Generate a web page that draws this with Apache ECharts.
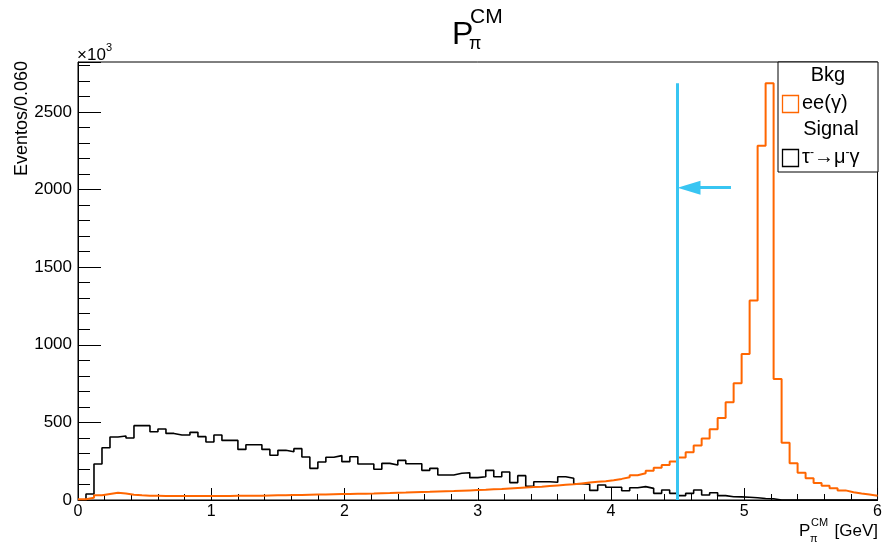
<!DOCTYPE html>
<html>
<head>
<meta charset="utf-8">
<script src="https://cdn.jsdelivr.net/npm/echarts@6/dist/echarts.min.js"></script>
<style>
  html, body { margin: 0; padding: 0; background: #fff; }
  #chart { width: 885px; height: 548px; }
</style>
</head>
<body>
<div id="chart"></div>
<script>
// histogram binning: 100 bins of 0.060 GeV from 0 to 6
const binWidth = 0.06;
const xMin = 0;
const xMax = 6;
const yMax = 2822; // in units of 10^3 events

// ee(gamma) background, per bin (x10^3)
const bkgCounts = [
  5, 15, 30, 38, 46, 42, 34, 30, 28, 27,
  26, 26, 25, 25, 25, 25, 26, 26, 26, 27,
  27, 28, 28, 29, 30, 31, 32, 33, 34, 35,
  36, 37, 38, 39, 40, 41, 42, 44, 45, 47,
  48, 50, 52, 53, 55, 57, 58, 60, 62, 64,
  66, 69, 71, 74, 77, 80, 83, 86, 90, 94,
  98, 102, 107, 112, 117, 121, 127, 136, 146, 160,
  172, 189, 208, 226, 248, 274, 308, 351, 396, 456,
  528, 629, 752, 940, 1285, 2283, 2685, 780, 369, 236,
  175, 140, 110, 92, 75, 62, 50, 42, 35, 27
];

// tau -> mu gamma signal, per bin
const sigCounts = [
  0, 39, 232, 337, 406, 412, 399, 479, 479, 440,
  457, 429, 419, 419, 436, 408, 374, 419, 384, 384,
  326, 356, 356, 326, 288, 320, 311, 331, 277, 204,
  245, 275, 286, 247, 279, 232, 232, 198, 236, 225,
  255, 234, 234, 191, 204, 161, 161, 172, 176, 144,
  150, 191, 150, 180, 112, 157, 88, 118, 118, 114,
  150, 140, 105, 101, 62, 97, 82, 82, 60, 79,
  86, 75, 43, 64, 43, 28, 43, 64, 32, 47,
  28, 21, 20, 18, 14, 10, 8, 0, 0, 0,
  0, 0, 0, 0, 0, 0, 0, 0, 0, 0
];

// cut line and arrow
const cutX = 4.5;
const cutTop = 2685;
const arrowY = 2012;
const arrowStartX = 4.9;

const FONT = "'Liberation Sans', Arial, Helvetica, sans-serif";
const ORANGE = '#ff6600';
const CYAN = '#38c5f2';

function toSteps(counts) {
  const pts = counts.map((v, i) => [+(xMin + i * binWidth).toFixed(3), v]);
  pts.push([xMax, counts[counts.length - 1]]);
  return pts;
}

function txt(x, y, text, size, align, extra) {
  return Object.assign({
    type: 'text',
    x: x,
    y: y,
    z: 100,
    style: {
      text: text,
      font: size + 'px ' + FONT,
      fill: '#000',
      align: align || 'left',
      verticalAlign: 'middle',
      textAlign: align || 'left',
      textVerticalAlign: 'middle'
    }
  }, extra || {});
}

const chart = echarts.init(document.getElementById('chart'), null, { renderer: 'canvas' });

const option = {
  animation: false,
  backgroundColor: '#fff',
  grid: {
    left: 78,
    right: 7,
    top: 62,
    bottom: 48,
    show: true,
    borderColor: '#000',
    borderWidth: 1,
    backgroundColor: 'transparent'
  },
  xAxis: {
    type: 'value',
    min: xMin,
    max: xMax,
    interval: 1,
    axisLine: { show: true, lineStyle: { color: '#000', width: 1 } },
    axisTick: { show: true, inside: true, length: 12, lineStyle: { color: '#000', width: 1 } },
    minorTick: { show: true, splitNumber: 5, length: 6, lineStyle: { color: '#000', width: 1 } },
    splitLine: { show: false },
    axisLabel: { color: '#000', fontSize: 16, fontFamily: FONT, margin: 4 }
  },
  yAxis: [
    {
      type: 'value',
      min: 0,
      max: yMax,
      interval: 500,
      axisLine: { show: true, lineStyle: { color: '#000', width: 1 } },
      axisTick: { show: true, inside: true, length: 23, lineStyle: { color: '#000', width: 1 } },
      splitLine: { show: false },
      axisLabel: {
        color: '#000', fontSize: 17, fontFamily: FONT, margin: 6,
        formatter: v => (v % 500 === 0 ? String(v) : '')
      }
    },
    {
      type: 'value',
      position: 'left',
      min: 0,
      max: yMax,
      interval: 100,
      axisLine: { show: false },
      axisTick: { show: true, inside: true, length: 12, lineStyle: { color: '#000', width: 1 } },
      splitLine: { show: false },
      axisLabel: { show: false }
    }
  ],
  series: [
    {
      name: 'ee(γ)',
      type: 'line',
      step: 'end',
      data: toSteps(bkgCounts),
      symbol: 'none',
      lineStyle: { color: ORANGE, width: 2 },
      z: 3,
      markLine: {
        silent: true,
        animation: false,
        symbol: ['none', 'none'],
        label: { show: false },
        lineStyle: { color: CYAN, width: 3, type: 'solid' },
        emphasis: { disabled: true },
        data: [
          [{ coord: [cutX, 0] }, { coord: [cutX, cutTop] }],
          [
            { coord: [arrowStartX, arrowY], symbol: 'none' },
            { coord: [cutX + 0.085, arrowY], symbol: 'path://M6,0 L12,22 L0,22 Z', symbolSize: [14, 23] }
          ]
        ]
      }
    },
    {
      name: 'τ⁻→μ⁻γ',
      type: 'line',
      step: 'end',
      data: toSteps(sigCounts),
      symbol: 'none',
      lineStyle: { color: '#000', width: 1.6 },
      z: 2
    }
  ],
  graphic: [
    // title P_pi^CM
    txt(452, 35, 'P', 32),
    txt(470, 17, 'CM', 21),
    txt(469, 44, 'π', 18),
    // x10^3
    txt(77, 55, '×10', 17),
    txt(106, 48, '3', 11),
    // y axis title
    txt(22, 61, 'Eventos/0.060', 18, 'right', { rotation: Math.PI / 2 }),
    // x axis title
    txt(799, 531, 'P', 17),
    txt(811, 523, 'CM', 11),
    txt(810, 539, 'π', 11),
    txt(878, 531, '[GeV]', 17, 'right'),
    // legend box
    {
      type: 'rect',
      z: 90,
      shape: { x: 778, y: 62, width: 100, height: 110 },
      style: { fill: '#fff', stroke: '#000', lineWidth: 1 }
    },
    txt(828, 75, 'Bkg', 20, 'center'),
    {
      type: 'rect',
      z: 100,
      shape: { x: 782.5, y: 95.5, width: 16, height: 17 },
      style: { fill: '#fff', stroke: ORANGE, lineWidth: 1.3 }
    },
    txt(802, 103, 'ee(γ)', 20),
    txt(831, 129, 'Signal', 20, 'center'),
    {
      type: 'rect',
      z: 100,
      shape: { x: 782.5, y: 149.5, width: 16, height: 17 },
      style: { fill: '#fff', stroke: '#000', lineWidth: 1.3 }
    },
    {
      type: 'text',
      x: 802,
      y: 157,
      z: 100,
      style: {
        text: '{a|τ}{s|-}{a|→μ}{s|-}{a|γ}',
        font: '20px ' + FONT,
        fill: '#000',
        verticalAlign: 'middle',
        textVerticalAlign: 'middle',
        rich: {
          a: { fontSize: 20, fontFamily: FONT, fill: '#000', color: '#000' },
          s: { fontSize: 12, fontFamily: FONT, fill: '#000', color: '#000', verticalAlign: 'top' }
        }
      }
    }
  ]
};

chart.setOption(option);
window.addEventListener('resize', () => chart.resize());
</script>
</body>
</html>
